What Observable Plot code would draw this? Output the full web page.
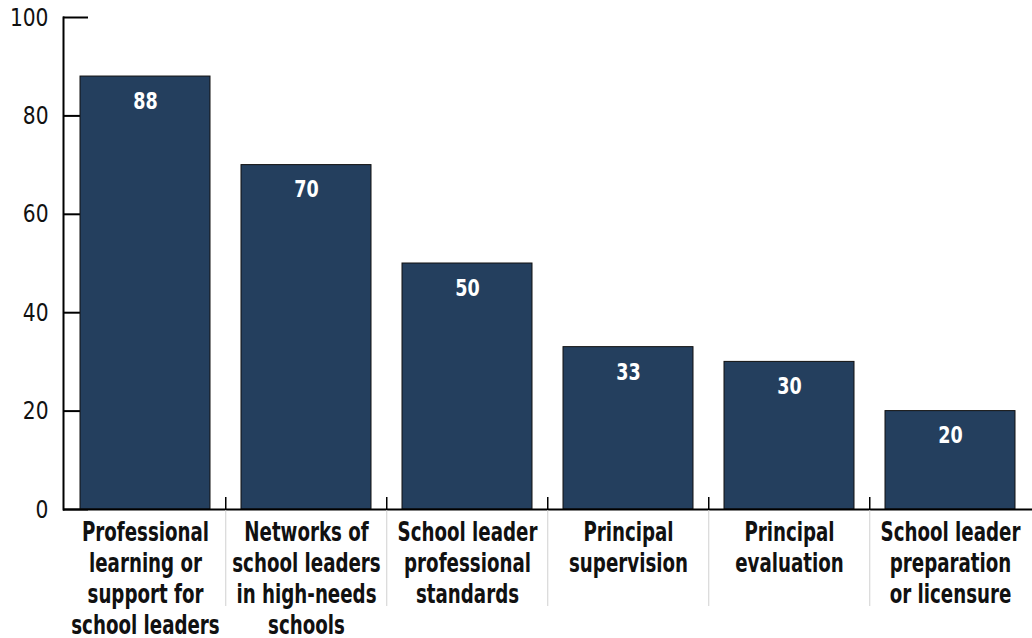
<!DOCTYPE html>
<html>
<head>
<meta charset="utf-8">
<script src="https://cdn.jsdelivr.net/npm/d3@7"></script>
<script src="https://cdn.jsdelivr.net/npm/@observablehq/plot@0.6"></script>
<style>
  html, body { margin: 0; padding: 0; background: #fff; }
  #chart svg { display: block; }
</style>
</head>
<body>
<div id="chart"></div>
<script>
const categories = [
  "Professional learning or support for school leaders",
  "Networks of school leaders in high-needs schools",
  "School leader professional standards",
  "Principal supervision",
  "Principal evaluation",
  "School leader preparation or licensure"
];
const categoryLabels = [
  "Professional\nlearning or\nsupport for\nschool leaders",
  "Networks of\nschool leaders\nin high-needs\nschools",
  "School leader\nprofessional\nstandards",
  "Principal\nsupervision",
  "Principal\nevaluation",
  "School leader\npreparation\nor licensure"
];
const values = [88, 70, 50, 33, 30, 20];
const yTicks = [0, 20, 40, 60, 80, 100];

const data = categories.map((c, i) => ({category: c, value: values[i]}));
const labelOf = new Map(categories.map((c, i) => [c, categoryLabels[i]]));

const W = 1032, H = 638;
const mL = 63, mR = 0, mT = 17, mB = 129;
const frameW = W - mL - mR, frameH = H - mT - mB;
const step = frameW / categories.length;
const condensed = "'DejaVu Sans Condensed', 'DejaVu Sans', sans-serif";

const chart = Plot.plot({
  width: W,
  height: H,
  marginLeft: mL,
  marginRight: mR,
  marginTop: mT,
  marginBottom: mB,
  style: {fontFamily: condensed, background: "#fff", overflow: "visible"},
  x: {domain: categories, paddingInner: 0.19, paddingOuter: 0.09, axis: null, label: null},
  y: {domain: [0, 100], axis: null, label: null},
  marks: [
    Plot.ruleY(yTicks, {y: d => d, stroke: "#000", strokeWidth: 2, insetRight: frameW - 25}),
    Plot.barY(data, {x: "category", y: "value", fill: "#243f5e", stroke: "#111", strokeWidth: 1}),
    Plot.text(data, {x: "category", y: "value", text: d => String(d.value), dy: 25, fill: "#fff", fontSize: 23, fontWeight: "bold", className: "vlabel"}),
    Plot.axisY({ticks: yTicks, tickSize: 0, tickPadding: 15, fontSize: 25, fill: "#111", label: null, tickFormat: d => String(d), className: "ylabel"}),
    Plot.frame({anchor: "left", stroke: "#000", strokeWidth: 2}),
    Plot.ruleY([0], {stroke: "#000", strokeWidth: 2}),
    Plot.ruleX(categories.slice(1), {x: d => d, dx: -step / 2, stroke: "#000", strokeWidth: 1.5, insetTop: frameH - 12}),
    Plot.ruleX(categories.slice(1), {x: d => d, dx: -step / 2, stroke: "#d0d0d0", strokeWidth: 1, insetTop: frameH + 1, insetBottom: -97}),
    Plot.axisX({tickSize: 0, tickPadding: 9, fontSize: 26, fontWeight: "bold", fill: "#111", lineHeight: 1.2, label: null, tickFormat: d => labelOf.get(d), className: "xlabel"})
  ]
});

// condense glyphs horizontally to mimic the reference's condensed typeface
function squeeze(sel, k) {
  d3.select(chart).selectAll(sel).each(function() {
    const t = this.getAttribute("transform") || "";
    this.setAttribute("transform", t + ` scale(${k},1)`);
  });
}
squeeze(".xlabel text", 0.78);
squeeze(".vlabel text", 0.85);
squeeze(".ylabel text", 0.9);

document.getElementById("chart").appendChild(chart);
</script>
</body>
</html>
